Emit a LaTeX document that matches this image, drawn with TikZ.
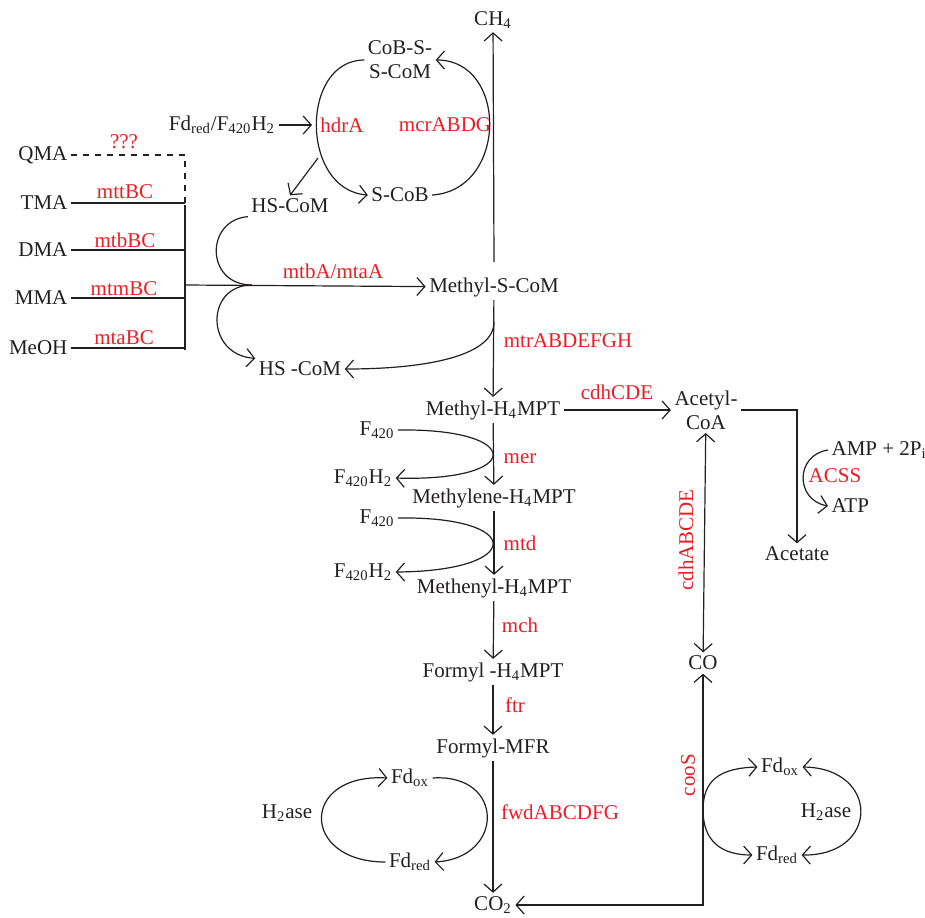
\documentclass[tikz,border=0pt]{standalone}
\usepackage{fontspec}
\setmainfont{Liberation Serif}
\usetikzlibrary{positioning,arrows.meta}
\definecolor{enzred}{RGB}{237,28,36}
\definecolor{ink}{RGB}{35,31,32}
\newcommand{\sbs}[1]{\textsubscript{#1}}

\begin{document}
\begin{tikzpicture}[x=0.5pt,y=-0.5pt,line width=0.6pt,color=ink,>={Straight Barb[length=4pt,width=9pt]},
    every node/.style={font=\fontsize{10.5}{12}\selectfont,inner sep=1.5pt,align=center},
    enz/.style={text=enzred},sub/.style={anchor=east}]
    \useasboundingbox (0,0) rectangle (925,917);
    % methyl-S-CoM branch
    \node (ch4) at (493,20) {CH\sbs{4}};
    \node (cobs) at (400,60) {CoB-S-\\S-CoM};
    \node (fdin) at (222,125) {Fd\sbs{red}/F\sbs{420}H\sbs{2}};
    \node[enz] (hdr) at (342,125) {hdrA};
    \node[enz] (mcr) at (445,125) {mcrABDG};
    \node (scob) at (400,195) {S-CoB};
    \node (hscomA) at (290,206) {HS-CoM};
    \node (hscomB) at (300,369) {HS -CoM};
    \node (mscom) at (494,287) {Methyl-S-CoM};
    % methylated substrates
    \node[sub] (qma) at (71,155) {QMA};
    \node[sub] (tma) at (71,203) {TMA};
    \node[sub] (dma) at (71,250) {DMA};
    \node[sub] (mma) at (71,298) {MMA};
    \node[sub] (meoh) at (71,348) {MeOH};
    \node[enz] (qmaenz) at (124,142) {???};
    \node[enz] (tmaenz) at (125,192) {mttBC};
    \node[enz] (dmaenz) at (125,240) {mtbBC};
    \node[enz] (mmaenz) at (124,289) {mtmBC};
    \node[enz] (meohenz) at (124,338) {mtaBC};
    \node[enz] (mtba) at (333,271) {mtbA/mtaA};
    \coordinate (jt) at (185,205);
    \coordinate (jm) at (185,285);
    \coordinate (jb) at (185,350);
    \coordinate (jc) at (252,285);
    \coordinate (ch4ft) at (494,262);
    % H4MPT chain
    \node (mh4) at (493,410) {Methyl-H\sbs{4}MPT};
    \node (meh4) at (494,498) {Methylene-H\sbs{4}MPT};
    \node (mnh4) at (494,588) {Methenyl-H\sbs{4}MPT};
    \node (fh4) at (493,672) {Formyl -H\sbs{4}MPT};
    \node (fmfr) at (493,748) {Formyl-MFR};
    \node (co2) at (493,905) {CO\sbs{2}};
    \node[enz] (mtr) at (568,341) {mtrABDEFGH};
    \node[enz] (mer) at (520,459) {mer};
    \node[enz] (mtd) at (520,543) {mtd};
    \node[enz] (mch) at (520,625) {mch};
    \node[enz] (ftr) at (515,705) {ftr};
    \node[enz] (fwd) at (560,812) {fwdABCDFG};
    \node (f420a) at (377,430) {F\sbs{420}};
    \node (f420h2a) at (363,478) {F\sbs{420}H\sbs{2}};
    \node (f420b) at (377,518) {F\sbs{420}};
    \node (f420h2b) at (363,572) {F\sbs{420}H\sbs{2}};
    \node (fdoxA) at (410,778) {Fd\sbs{ox}};
    \node (fdredA) at (410,862) {Fd\sbs{red}};
    \node (hydA) at (287,813) {H\sbs{2}ase};
    % acetate / CO side
    \node (acoa) at (706,410) {Acetyl-\\CoA};
    \node[enz] (cdh) at (617,392) {cdhCDE};
    \node (acet) at (797,554) {Acetate};
    \node[anchor=west] (amp) at (828,450) {AMP + 2P\sbs{i}};
    \node[enz] (acss) at (835,476) {ACSS};
    \node[anchor=west] (atp) at (828,506) {ATP};
    \node (co) at (703,663) {CO};
    \node[enz,rotate=90] (cdhab) at (686,540) {cdhABCDE};
    \node[enz,rotate=90] (coos) at (688,775) {cooS};
    \node (fdoxB) at (780,767) {Fd\sbs{ox}};
    \node (fdredB) at (777,855) {Fd\sbs{red}};
    \node (hydB) at (826,812) {H\sbs{2}ase};

    % substrate lines
    \draw[dashed] (qma) -- (qma -| jt) -- (jt);
    \foreach \s in {tma,dma,mma,meoh}
        \draw (\s) -- (\s -| jt);
    \draw (jt) -- (jb);
    \draw[->] (jm) -- (mscom);
    \draw (hscomA.south west) .. controls (205,220) and (205,285) .. (jc);
    \draw[->] (jc) .. controls (205,285) and (205,355) .. (hscomB.north west);
    % CH4 and the CoM/CoB cycle
    \draw[->] (ch4ft) -- (ch4);
    \draw[->] (cobs.west) .. controls (300,60) and (300,190) .. (scob.west);
    \draw[->] (scob.east) .. controls (508,190) and (508,60) .. (cobs.east);
    \draw[->] (fdin) -- (312,125);
    \coordinate (hdrbr) at (318,158);
    \draw[->] (hdrbr) -- (hscomA.north);
    % H4MPT chain
    \draw[->] (mscom) -- (mh4);
    \coordinate (mtrpt) at (494,322);
    \draw[->] (mtrpt) .. controls (494,355) and (430,369) .. (hscomB.east);
    \draw[->] (mh4) -- (meh4);
    \draw[->] (meh4) -- (mnh4);
    \draw[->] (mnh4) -- (fh4);
    \draw[->] (fh4) -- (fmfr);
    \draw[->] (fmfr) -- (co2);
    \draw[->] (f420a.east) .. controls (525,428) and (525,482) .. (f420h2a.east);
    \draw[->] (f420b.east) .. controls (525,516) and (525,571) .. (f420h2b.east);
    \draw[->] (fdoxA.east) .. controls (505,773) and (505,858) .. (fdredA.east);
    \draw[->] (fdredA.west) .. controls (300,862) and (300,773) .. (fdoxA.west);
    % acetyl-CoA and CO
    \draw[->] (mh4) -- (acoa);
    \draw[->] (acoa.east) -| (acet);
    \draw[->] (amp.west) .. controls (795,455) and (795,500) .. (atp.west);
    \draw[<->] (acoa) -- (co);
    \draw[<->] (co) |- (co2);
    \coordinate (coospt) at (703,810);
    \draw[->] (coospt) .. controls (703,780) and (720,768) .. (fdoxB.west);
    \draw[->] (coospt) .. controls (703,840) and (720,855) .. (fdredB.west);
    \draw[<->] (fdoxB.east) .. controls (880,768) and (880,856) .. (fdredB.east);
\end{tikzpicture}
\end{document}
